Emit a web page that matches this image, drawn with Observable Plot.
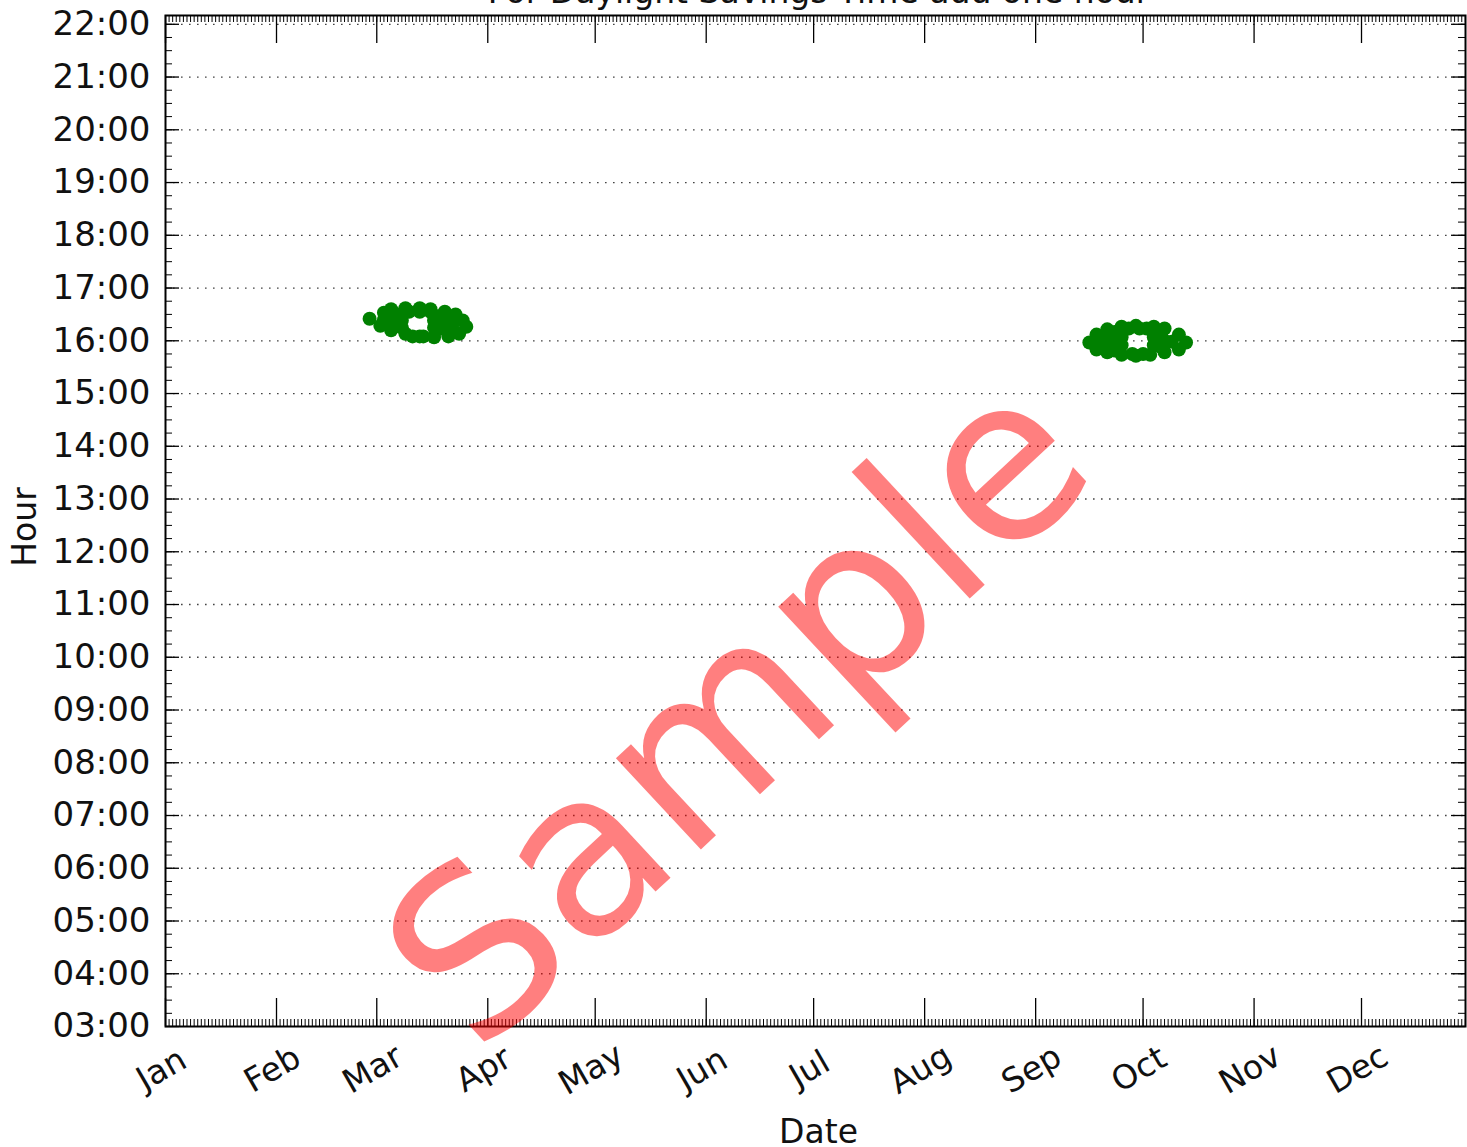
<!DOCTYPE html>
<html><head><meta charset="utf-8">
<script src="https://cdn.jsdelivr.net/npm/d3@7"></script>
<script src="https://cdn.jsdelivr.net/npm/@observablehq/plot@0.6"></script>
<style>body{margin:0;background:#fff;overflow:hidden} #chart svg{display:block}</style>
</head><body><div id="chart"></div>
<script>
// ---- data ----
const springDates = ["2013-02-27","2013-03-03","2013-03-05","2013-03-09","2013-03-13","2013-03-16","2013-03-20","2013-03-23","2013-03-25","2013-03-26","2013-03-24","2013-03-21","2013-03-17","2013-03-13","2013-03-09","2013-03-05","2013-03-02","2013-03-10","2013-03-13","2013-03-16","2013-03-08","2013-03-08","2013-03-17","2013-03-17","2013-03-11","2013-03-14","2013-03-05","2013-03-03","2013-03-06","2013-03-20","2013-03-22","2013-03-19","2013-03-23","2013-03-07","2013-03-18"];
const springTimes = ["16:25","16:32","16:36","16:37","16:37","16:36","16:33","16:30","16:23","16:16","16:08","16:05","16:04","16:05","16:08","16:12","16:17","16:33","16:33","16:33","16:23","16:15","16:23","16:15","16:05","16:05","16:25","16:24","16:18","16:23","16:16","16:14","16:23","16:30","16:28"];
const autumnDates = ["2013-09-16","2013-09-18","2013-09-21","2013-09-25","2013-09-29","2013-10-04","2013-10-07","2013-10-11","2013-10-13","2013-10-11","2013-10-07","2013-10-03","2013-09-29","2013-09-25","2013-09-21","2013-09-18","2013-09-27","2013-09-30","2013-10-02","2013-09-25","2013-09-25","2013-10-04","2013-10-04","2013-09-28","2013-10-01","2013-09-20","2013-09-22","2013-09-22","2013-10-07","2013-10-09","2013-10-06","2013-10-06","2013-09-19","2013-09-23","2013-10-05","2013-09-23","2013-09-23"];
const autumnTimes = ["15:58","16:07","16:13","16:16","16:17","16:16","16:14","16:07","15:58","15:50","15:47","15:44","15:43","15:44","15:47","15:50","16:14","16:14","16:14","16:04","15:55","16:04","15:55","15:45","15:45","15:59","16:05","15:53","16:00","15:59","15:53","16:07","15:58","16:10","15:59","15:59","15:49"];
const monthLabels = ["Jan","Feb","Mar","Apr","May","Jun","Jul","Aug","Sep","Oct","Nov","Dec"];
const hourTicks = [3,4,5,6,7,8,9,10,11,12,13,14,15,16,17,18,19,20,21,22];
const titleText = "For Daylight Savings Time add one hour";
const xLabel = "Date";
const yLabel = "Hour";
const watermark = "Sample";

// ---- build table ----
const parseT = s => { const [h, m] = s.split(":").map(Number); return h + m / 60; };
const points = [
  ...springDates.map((d, i) => ({date: new Date(d + "T00:00:00Z"), hour: parseT(springTimes[i])})),
  ...autumnDates.map((d, i) => ({date: new Date(d + "T00:00:00Z"), hour: parseT(autumnTimes[i])}))
];

const W = 1467, H = 1147, mT = 15, mB = 121, mL = 165, mR = 2;
const plotH = H - mT - mB, plotW = W - mL - mR;
const xDomain = [new Date(Date.UTC(2013, 0, 1)), new Date(Date.UTC(2013, 11, 30, 1))];
const yDomain = [3, 22 + 10 / 60];
const months = d3.utcMonth.range(xDomain[0], xDomain[1]);
const days = d3.utcDay.range(xDomain[0], xDomain[1]);
const minorY = d3.range(3, 22.17, 0.25);
const font = "DejaVu Sans";

const chart = Plot.plot({
  width: W, height: H,
  marginTop: mT, marginBottom: mB, marginLeft: mL, marginRight: mR,
  style: {fontFamily: font, background: "white", color: "black"},
  x: {type: "utc", domain: xDomain, axis: null},
  y: {type: "linear", domain: yDomain, axis: null},
  marks: [
    Plot.ruleY(hourTicks.filter(h => h > 3), {y: d => d, stroke: "#444", strokeWidth: 1.3, strokeDasharray: "1.6,6.4"}),
    Plot.dot(points, {x: "date", y: "hour", r: 7, fill: "#008000", stroke: "none"}),
    // minor & major ticks (inward), bottom & top
    Plot.tickX(days, {x: d => d, insetTop: plotH - 7, stroke: "black", strokeWidth: 1}),
    Plot.tickX(days, {x: d => d, insetBottom: plotH - 7, stroke: "black", strokeWidth: 1}),
    Plot.tickX(months, {x: d => d, insetTop: plotH - 28, stroke: "black", strokeWidth: 1.3}),
    Plot.tickX(months, {x: d => d, insetBottom: plotH - 28, stroke: "black", strokeWidth: 1.3}),
    // y ticks left & right
    Plot.tickY(minorY, {y: d => d, insetRight: plotW - 7, stroke: "black", strokeWidth: 1}),
    Plot.tickY(minorY, {y: d => d, insetLeft: plotW - 7, stroke: "black", strokeWidth: 1}),
    Plot.tickY(hourTicks, {y: d => d, insetRight: plotW - 14, stroke: "black", strokeWidth: 1.3}),
    Plot.tickY(hourTicks, {y: d => d, insetLeft: plotW - 14, stroke: "black", strokeWidth: 1.3}),
    Plot.frame({stroke: "black", strokeWidth: 2}),
    // tick labels
    Plot.text(hourTicks, {y: d => d, text: d => String(d).padStart(2, "0") + ":00", frameAnchor: "left", dx: -15, textAnchor: "end", lineAnchor: "middle", fontSize: 34, fill: "#111"}),
    Plot.text(months, {x: d => d, text: (d, i) => monthLabels[i], frameAnchor: "bottom", dx: -4, dy: 43, rotate: -30, textAnchor: "middle", lineAnchor: "middle", fontSize: 33, fill: "#111"}),
    // axis titles and title
    Plot.text([xLabel], {text: d => d, frameAnchor: "bottom", dx: 3, dy: 106, textAnchor: "middle", lineAnchor: "middle", fontSize: 33, fill: "#111"}),
    Plot.text([yLabel], {text: d => d, frameAnchor: "left", dx: -140, dy: 6, rotate: -90, textAnchor: "middle", lineAnchor: "middle", fontSize: 33, fill: "#111"}),
    Plot.text([titleText], {text: d => d, frameAnchor: "top", dx: 3, dy: -23, textAnchor: "middle", lineAnchor: "middle", fontSize: 33, fill: "#111"}),
    // watermark
    Plot.text([watermark], {text: d => d, frameAnchor: "top-left", dx: 575, dy: 697, rotate: -43, textAnchor: "middle", lineAnchor: "middle", fontSize: 228, fill: "#ff0000", fillOpacity: 0.5})
  ]
});
document.getElementById("chart").append(chart);
</script>
</body></html>
